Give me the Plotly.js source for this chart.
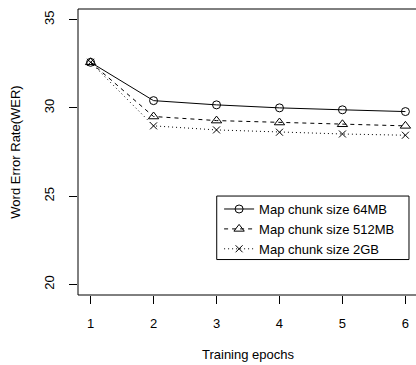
<!DOCTYPE html>
<html>
<head>
<meta charset="utf-8">
<script src="https://cdn.plot.ly/plotly-3.0.1.min.js"></script>
<style>html,body{margin:0;padding:0;overflow:hidden;background:#fff}#chart{width:420px;height:365px}</style>
</head>
<body>
<div id="chart"></div>
<script>
const epochs = [1, 2, 3, 4, 5, 6];
const wer64MB = [32.58, 30.41, 30.17, 30.0, 29.89, 29.79];
const wer512MB = [32.58, 29.51, 29.28, 29.17, 29.07, 28.98];
const wer2GB = [32.58, 28.98, 28.75, 28.62, 28.52, 28.45];
const seriesNames = ['Map chunk size 64MB', 'Map chunk size 512MB', 'Map chunk size 2GB'];
const xTicks = [1, 2, 3, 4, 5, 6];
const yTicks = [20, 25, 30, 35];

const font = {family: '"Liberation Sans", Arial, sans-serif', size: 13, color: '#000'};

const traces = [
  {x: epochs, y: wer64MB, name: seriesNames[0], mode: 'lines+markers', type: 'scatter',
   line: {color: '#000', width: 1, dash: 'solid'},
   marker: {symbol: 'circle-open', size: 8, color: '#000', line: {width: 1, color: '#000'}}},
  {x: epochs, y: wer512MB, name: seriesNames[1], mode: 'lines+markers', type: 'scatter',
   line: {color: '#000', width: 1, dash: '4px,4px'},
   marker: {symbol: 'triangle-up-open', size: 9, color: '#000', line: {width: 1, color: '#000'}}},
  {x: epochs, y: wer2GB, name: seriesNames[2], mode: 'lines+markers', type: 'scatter',
   line: {color: '#000', width: 1, dash: '1px,3px'},
   marker: {symbol: 'x-thin-open', size: 7, color: '#000', line: {width: 1, color: '#000'}}}
];

const layout = {
  width: 420, height: 365,
  margin: {l: 78, r: 2, t: 9, b: 70},
  paper_bgcolor: '#fff', plot_bgcolor: '#fff',
  font: font,
  showlegend: true,
  xaxis: {
    range: [0.8, 6.2], tickvals: xTicks, ticktext: xTicks.map(String),
    ticks: 'outside', ticklen: 8, tickwidth: 1, tickcolor: '#000',
    showgrid: false, zeroline: false, showline: false,
    ticklabelstandoff: 8,
    title: {text: 'Training epochs', font: font, standoff: 20}
  },
  yaxis: {
    range: [19.4, 35.6], tickvals: yTicks, ticktext: yTicks.map(String),
    ticks: 'outside', ticklen: 8, tickwidth: 1, tickcolor: '#000',
    tickangle: -90,
    showgrid: false, zeroline: false, showline: false,
    ticklabelstandoff: 10,
    title: {text: 'Word Error Rate(WER)', font: font, standoff: 18}
  },
  legend: {
    x: 0.415, y: 0.353, xanchor: 'left', yanchor: 'top',
    bgcolor: 'rgba(0,0,0,0)', borderwidth: 0, font: font,
    tracegroupgap: 0
  },
  shapes: [
    {type: 'rect', xref: 'paper', yref: 'paper', x0: 0, x1: 1, y0: 0, y1: 1,
     line: {color: '#000', width: 1}, layer: 'above'},
    {type: 'rect', xref: 'paper', yref: 'paper', x0: 0.408, x1: 0.9735, y0: 0.124, y1: 0.346,
     line: {color: '#000', width: 1}, fillcolor: 'rgba(0,0,0,0)', layer: 'above'}
  ]
};

Plotly.newPlot('chart', traces, layout, {displayModeBar: false, staticPlot: true});
</script>
</body>
</html>
